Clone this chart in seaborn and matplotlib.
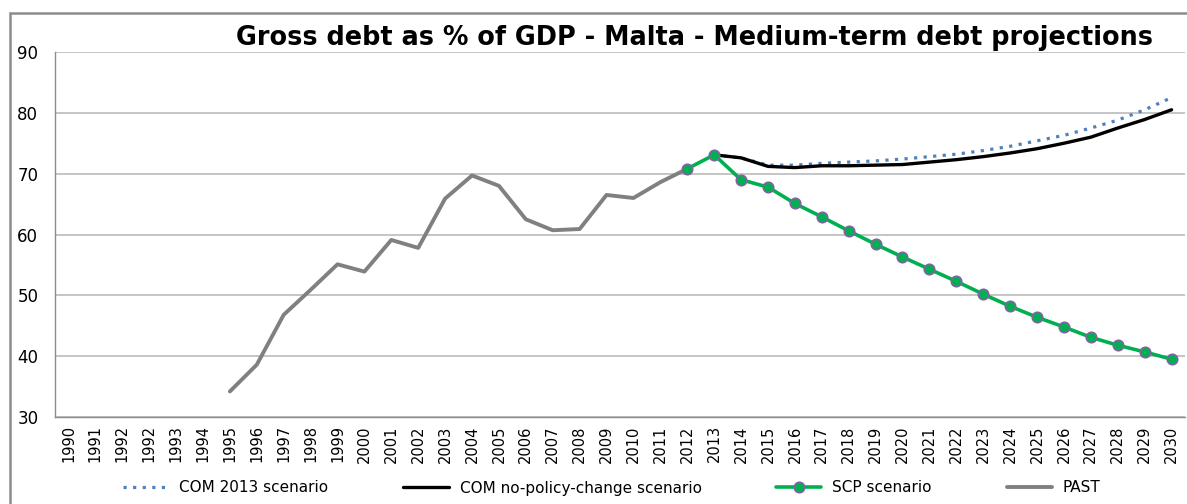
import numpy as np
import pandas as pd
import matplotlib.pyplot as plt
import seaborn as sns
from matplotlib.patches import Rectangle

# Category labels (the source chart repeats 1992)
years = ["1990", "1991", "1992", "1992", "1993", "1994"] + [str(y) for y in range(1995, 2031)]

# Past debt ratio, 1995-2012
past = [34.2, 38.6, 46.8, 50.9, 55.1, 53.9, 59.1, 57.8, 65.9, 69.7,
        68.0, 62.5, 60.7, 60.9, 66.5, 66.0, 68.6, 70.8]

# SCP scenario, 2012-2030
scp = [70.8, 73.1, 69.0, 67.8, 65.1, 62.9, 60.6, 58.4, 56.3, 54.3,
       52.3, 50.2, 48.2, 46.4, 44.8, 43.1, 41.8, 40.7, 39.5]

# COM no-policy-change scenario, 2013-2030
com_npc = [73.1, 72.6, 71.2, 71.0, 71.3, 71.3, 71.4, 71.5, 71.9, 72.3,
           72.8, 73.4, 74.1, 75.0, 76.0, 77.5, 78.9, 80.5]

# COM 2013 scenario, 2013-2030
com_2013 = [73.1, 72.6, 71.4, 71.4, 71.7, 71.9, 72.1, 72.4, 72.8, 73.2,
            73.8, 74.5, 75.4, 76.3, 77.5, 78.8, 80.5, 82.5]


def series_frame(values, start):
    i0 = years.index(start)
    return pd.DataFrame({"pos": np.arange(i0, i0 + len(values)), "value": values})


sns.set_style("white")
plt.rcParams["font.family"] = ["DejaVu Sans"]
plt.rcParams["text.color"] = "black"
plt.rcParams["xtick.labelcolor"] = "black"
plt.rcParams["ytick.labelcolor"] = "black"

fig = plt.figure(figsize=(11.87, 5.04), dpi=100)
ax = fig.add_axes([55 / 1187, 1 - 417 / 504, 1130 / 1187, 365 / 504])

# outer chart border
fig.patches.append(Rectangle((10 / 1187, -0.2), 1.2, 1.2 - 13 / 504,
                             transform=fig.transFigure, fill=False,
                             edgecolor="#8c8c8c", linewidth=1.8, zorder=0))

sns.lineplot(data=series_frame(past, "1995"), x="pos", y="value", ax=ax,
             color="#808080", linewidth=2.8, label="PAST", zorder=3)
sns.lineplot(data=series_frame(com_2013, "2013"), x="pos", y="value", ax=ax,
             color="#4F81BD", linewidth=2.3, linestyle=(0, (1, 2.0)),
             label="COM 2013 scenario", zorder=4)
sns.lineplot(data=series_frame(com_npc, "2013"), x="pos", y="value", ax=ax,
             color="black", linewidth=2.4, label="COM no-policy-change scenario", zorder=5)
sns.lineplot(data=series_frame(scp, "2012"), x="pos", y="value", ax=ax,
             color="#00B050", linewidth=2.6, marker="o", markersize=7.5,
             markerfacecolor="#00B050", markeredgecolor="#8064A2", markeredgewidth=1.2,
             label="SCP scenario", zorder=6)

ax.set_xlim(-0.5, len(years) - 0.5)
ax.set_ylim(30, 90)
ax.set_yticks(np.arange(30, 91, 10))
ax.set_xticks(np.arange(len(years)))
ax.set_xticklabels(years, rotation=90, fontsize=10.5)
ax.set_xticks(np.arange(-0.5, len(years), 1), minor=True)
ax.tick_params(axis="x", which="major", length=0, pad=6)
ax.tick_params(axis="x", which="minor", length=6, width=0.9, color="#8c8c8c", direction="out")
ax.tick_params(axis="y", length=5, width=0.9, color="#8c8c8c", direction="out", labelsize=12, pad=7)
ax.set_xlabel("")
ax.set_ylabel("")

ax.grid(axis="y", color="#c0c0c0", linewidth=1.3)
ax.grid(axis="x", visible=False)
for side in ["top", "right"]:
    ax.spines[side].set_visible(False)
for side in ["left", "bottom"]:
    ax.spines[side].set_color("#8c8c8c")
    ax.spines[side].set_linewidth(1.0)

fig.text(695 / 1187, 1 - 45 / 504, "Gross debt as % of GDP - Malta - Medium-term debt projections",
         ha="center", va="baseline", fontsize=18.4, fontweight="bold", color="black")

handles, labels = ax.get_legend_handles_labels()
order = ["COM 2013 scenario", "COM no-policy-change scenario", "SCP scenario", "PAST"]
hmap = dict(zip(labels, handles))
ax.legend([hmap[k] for k in order], order, loc="center", bbox_to_anchor=(612 / 1187, 16 / 504),
          bbox_transform=fig.transFigure, ncol=4, frameon=False, fontsize=11,
          handlelength=2.95, columnspacing=4.9, handletextpad=0.72)

fig.savefig("out.png", dpi=100)
